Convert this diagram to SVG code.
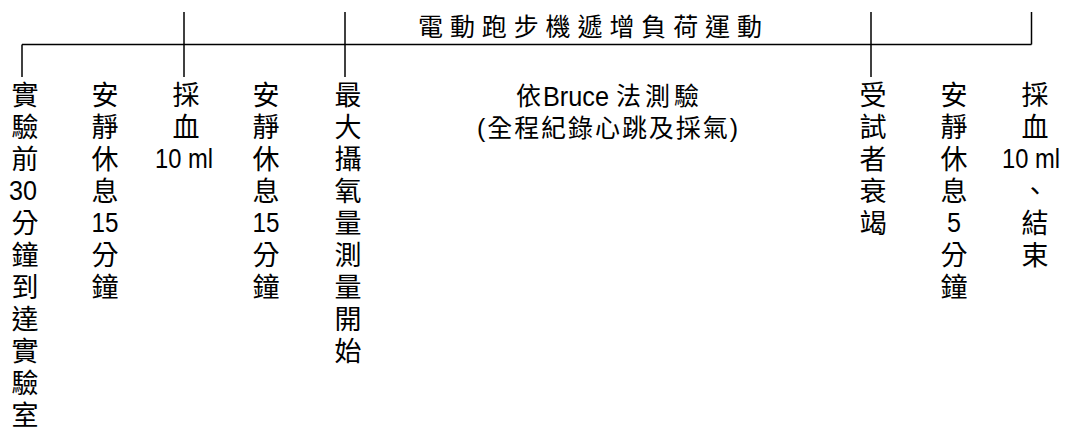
<svg xmlns="http://www.w3.org/2000/svg" width="1069" height="431" viewBox="0 0 1069 431">
<style>
.ln{stroke:#000;stroke-width:1.5;fill:none}
.c{font-family:"Liberation Sans","Noto Sans CJK TC","Noto Sans CJK SC",sans-serif;font-size:27px;fill:#000;text-anchor:middle}
.n{font-family:"Liberation Sans",Arial,sans-serif;font-size:28px}
.b{font-family:"Liberation Sans","Noto Sans CJK TC","Noto Sans CJK SC",sans-serif;font-size:25px;fill:#000}
.t{font-family:"Liberation Sans","Noto Sans CJK TC","Noto Sans CJK SC",sans-serif;font-size:25px;fill:#000}
</style>
<rect width="1069" height="431" fill="#fff"/>
<g id="connectors">
<path class="ln" d="M22 44.5H1031.5"/>
<path class="ln" d="M22 44.5V77"/>
<path class="ln" d="M184 12V77"/>
<path class="ln" d="M345 12V77"/>
<path class="ln" d="M871 12V77"/>
<path class="ln" d="M1031.5 12V44.5"/>
</g>
<g id="title">
<text class="t" x="418" y="36" textLength="344" lengthAdjust="spacing">電動跑步機遞增負荷運動</text>
</g>
<g id="col1">
<text class="c"><tspan x="25" y="105">實</tspan><tspan x="25" y="137">驗</tspan><tspan x="25" y="169">前</tspan><tspan class="n" x="23" y="200" textLength="28" lengthAdjust="spacingAndGlyphs">30</tspan><tspan x="25" y="233">分</tspan><tspan x="25" y="265">鐘</tspan><tspan x="25" y="297">到</tspan><tspan x="25" y="329">達</tspan><tspan x="25" y="361">實</tspan><tspan x="25" y="393">驗</tspan><tspan x="25" y="425">室</tspan></text>
</g>
<g id="col2">
<text class="c"><tspan x="105" y="105">安</tspan><tspan x="105" y="137">靜</tspan><tspan x="105" y="169">休</tspan><tspan x="105" y="201">息</tspan><tspan class="n" x="105" y="232" textLength="27" lengthAdjust="spacingAndGlyphs">15</tspan><tspan x="105" y="265">分</tspan><tspan x="105" y="297">鐘</tspan></text>
</g>
<g id="col3">
<text class="c"><tspan x="186" y="105">採</tspan><tspan x="186" y="137">血</tspan><tspan class="n" x="184" y="168" textLength="58" lengthAdjust="spacingAndGlyphs">10 ml</tspan></text>
</g>
<g id="col4">
<text class="c"><tspan x="266" y="105">安</tspan><tspan x="266" y="137">靜</tspan><tspan x="266" y="169">休</tspan><tspan x="266" y="201">息</tspan><tspan class="n" x="266" y="232" textLength="27" lengthAdjust="spacingAndGlyphs">15</tspan><tspan x="266" y="265">分</tspan><tspan x="266" y="297">鐘</tspan></text>
</g>
<g id="col5">
<text class="c"><tspan x="348" y="105">最</tspan><tspan x="348" y="137">大</tspan><tspan x="348" y="169">攝</tspan><tspan x="348" y="201">氧</tspan><tspan x="348" y="233">量</tspan><tspan x="348" y="265">測</tspan><tspan x="348" y="297">量</tspan><tspan x="348" y="329">開</tspan><tspan x="348" y="361">始</tspan></text>
</g>
<g id="col6">
<text class="b"><tspan x="516" y="105">依</tspan><tspan class="n" x="543" y="106" textLength="66" lengthAdjust="spacingAndGlyphs">Bruce</tspan><tspan x="616" y="105" textLength="83" lengthAdjust="spacing">法測驗</tspan></text>
<text class="b" x="477" y="137" textLength="261" lengthAdjust="spacing">(全程紀錄心跳及採氣)</text>
</g>
<g id="col7">
<text class="c"><tspan x="873" y="105">受</tspan><tspan x="873" y="137">試</tspan><tspan x="873" y="169">者</tspan><tspan x="873" y="201">衰</tspan><tspan x="873" y="233">竭</tspan></text>
</g>
<g id="col8">
<text class="c"><tspan x="954" y="105">安</tspan><tspan x="954" y="137">靜</tspan><tspan x="954" y="169">休</tspan><tspan x="954" y="201">息</tspan><tspan class="n" x="954" y="232" textLength="14" lengthAdjust="spacingAndGlyphs">5</tspan><tspan x="954" y="265">分</tspan><tspan x="954" y="297">鐘</tspan></text>
</g>
<g id="col9">
<text class="c"><tspan x="1035" y="105">採</tspan><tspan x="1035" y="137">血</tspan><tspan class="n" x="1031" y="168" textLength="58" lengthAdjust="spacingAndGlyphs">10 ml</tspan><tspan x="1035" y="201">、</tspan><tspan x="1035" y="233">結</tspan><tspan x="1035" y="265">束</tspan></text>
</g>
</svg>
